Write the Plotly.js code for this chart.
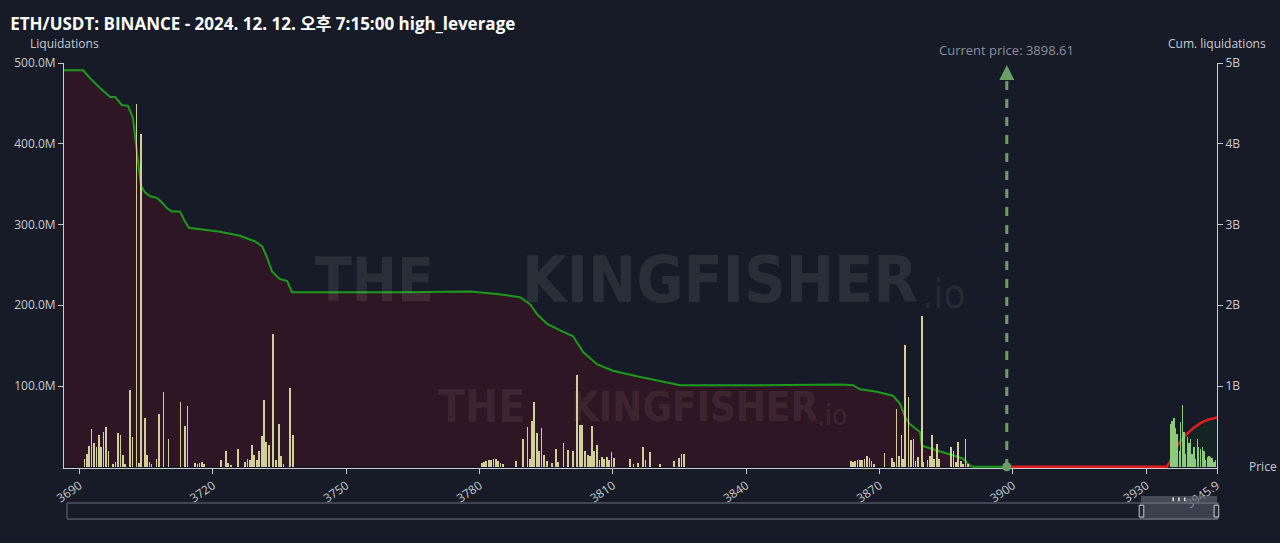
<!DOCTYPE html>
<html>
<head>
<meta charset="utf-8">
<script src="https://cdn.plot.ly/plotly-3.0.1.min.js"></script>
<style>
html,body{margin:0;padding:0;background:#161b27;}
#chart{width:1280px;height:543px;}
</style>
</head>
<body>
<div id="chart"></div>
<script>
// ---- data (prices in USDT, liquidations in M USD, cumulative in B USD) ----
const longPrices = [3691.1,3691.6,3692.2,3692.7,3693.3,3693.8,3694.3,3694.8,3695.4,3696.0,3696.5,3697.6,3698.1,3698.7,3699.2,3699.7,3700.2,3701.4,3701.9,3702.8,3703.3,3703.8,3704.7,3705.2,3705.7,3706.2,3707.3,3707.8,3708.9,3710.0,3712.7,3713.7,3714.3,3716.0,3716.5,3717.0,3717.5,3718.0,3721.8,3722.9,3723.4,3724.0,3725.6,3727.2,3727.8,3728.3,3728.8,3729.3,3729.9,3730.4,3731.0,3731.5,3732.0,3732.6,3733.5,3734.2,3734.8,3735.3,3735.9,3737.4,3738.0,
3780.5,3781.0,3781.5,3782.1,3782.6,3783.1,3783.7,3784.2,3784.7,3785.2,3788.2,3789.7,3790.8,3791.3,3791.8,3792.3,3792.9,3793.4,3793.9,3794.5,3795.1,3796.3,3797.2,3797.7,3798.9,3799.9,3801.0,3801.9,3802.6,3803.1,3803.7,3804.4,3804.9,3805.3,3805.8,3806.4,3807.0,3807.5,3808.0,3808.6,3809.1,3809.7,3810.2,3813.9,3814.6,3815.6,3816.7,3817.3,3818.4,3820.6,3823.8,3824.8,3825.4,3826.0,
3863.5,3864.0,3864.5,3865.0,3865.6,3866.1,3866.6,3867.1,3867.7,3868.2,3868.7,3871.1,3872.8,3873.3,3873.8,3874.3,3874.9,3875.2,3875.7,3876.5,3877.0,3877.6,3878.1,3878.6,3879.5,3879.9,3880.8,3881.3,3881.8,3882.3,3882.9,3883.4,3886.0,3886.6,3887.2,3887.7,3888.3,3888.8,3889.3,3889.9];
const longLiqM = [10,16,26,47,30,24,39,25,43,49,20,3,6,42,39,15,4,95,37,449,5,412,60,15,6,3,10,65,93,35,80,51,75,5,4,5,6,4,8,20,5,2,22,6,10,8,27,15,8,19,38,83,31,27,165,8,53,13,4,98,39,
5,6,7,9,8,10,10,7,5,4,7,34,49,10,57,80,42,19,48,15,7,5,22,6,30,21,20,114,52,52,19,14,13,51,19,27,8,12,10,12,8,18,11,10,4,5,24,9,18,4,7,11,16,16,
7,6,7,8,8,8,10,13,11,7,4,17,11,6,72,13,39,10,151,86,33,35,7,12,187,6,8,13,39,10,28,10,24,19,6,31,7,4,34,4];

const shortPrices = [3935.4,3935.8,3936.2,3936.6,3936.9,3937.4,3937.7,3938.1,3938.5,3938.8,3939.2,3939.6,3939.9,3940.3,3940.7,3941.1,3941.5,3941.8,3942.2,3942.6,3943.0,3943.3,3943.7,3944.1,3944.5,3944.8,3945.2,3945.6];
const shortLiqM = [53,57,60,48,41,20,56,76,43,16,37,29,34,16,24,10,35,24,22,24,19,8,12,13,12,11,6,8];

const cumLongPrices = [3686.5,3690.8,3692.4,3694.6,3696.9,3698.0,3699.5,3700.9,3702.0,3702.9,3703.8,3704.7,3705.9,3707.4,3708.6,3709.7,3710.8,3712.6,3713.5,3714.6,3717.1,3721.6,3726.1,3729.5,3731.1,3732.2,3733.3,3734.9,3736.7,3737.8,3762.1,3777.9,3783.9,3789.1,3791.4,3792.9,3795.2,3798.8,3801.0,3803.3,3806.4,3810.0,3815.4,3819.9,3825.1,3843.1,3861.1,3864.0,3865.6,3869.4,3873.0,3874.6,3875.7,3876.8,3879.1,3879.5,3882.1,3883.6,3886.6,3888.8,3890.4,3891.0,3898.61];
const cumLongB = [4.91,4.91,4.81,4.69,4.58,4.58,4.48,4.47,4.32,3.91,3.48,3.40,3.35,3.33,3.27,3.20,3.16,3.16,3.06,2.96,2.94,2.91,2.86,2.79,2.73,2.59,2.42,2.33,2.30,2.16,2.16,2.17,2.14,2.10,2.01,1.89,1.77,1.67,1.62,1.42,1.27,1.19,1.12,1.07,1.01,1.01,1.02,1.01,0.96,0.93,0.88,0.78,0.62,0.53,0.43,0.26,0.22,0.19,0.14,0.10,0.01,0,0];

const cumShortPrices = [3898.61,3934.6,3935.4,3936.5,3937.6,3939.2,3940.6,3942.2,3943.7,3945.4,3945.9];
const cumShortB = [0,0,0.07,0.22,0.31,0.41,0.48,0.54,0.58,0.60,0.61];

const currentPrice = 3898.61;
const xTickVals = [3690,3720,3750,3780,3810,3840,3870,3900,3930,3945.9];
const xTickText = ["3690","3720","3750","3780","3810","3840","3870","3900","3930","3945.9"];
const liqTickVals = [100,200,300,400,500];
const liqTickText = ["100.0M","200.0M","300.0M","400.0M","500.0M"];
const cumTickVals = [1,2,3,4,5];
const cumTickText = ["1B","2B","3B","4B","5B"];
const titleText = "ETH/USDT: BINANCE - 2024. 12. 12. 오후 7:15:00 high_leverage";

// ---- chart ----
const FONT = "'Open Sans','Noto Sans','Noto Sans CJK KR',sans-serif";
const AXC = "#c8cbd2";
const priceGreen = "#6b9f66";

const traces = [
  {x: cumLongPrices, y: cumLongB, type:'scatter', mode:'lines', yaxis:'y',
   line:{color:'#1c9a1c', width:2}, fill:'tozeroy', fillcolor:'rgba(70,18,34,0.55)', hoverinfo:'skip'},
  {x: cumShortPrices, y: cumShortB, type:'scatter', mode:'lines', yaxis:'y',
   line:{color:'#e21d1d', width:2.5}, fill:'tozeroy', fillcolor:'rgba(20,70,25,0.18)', hoverinfo:'skip'},
  {x: longPrices, y: longLiqM, type:'bar', yaxis:'y2', width:0.38,
   marker:{color:'#d3cf98', line:{width:0}}},
  {x: shortPrices, y: shortLiqM, type:'bar', yaxis:'y2', width:0.3,
   marker:{color:'#8ccb7c', line:{width:0}}},
  {x:[currentPrice], y:[0], type:'scatter', mode:'markers', yaxis:'y', cliponaxis:false,
   marker:{color:priceGreen, size:9}, hoverinfo:'skip'}
];

const wm = 'rgba(255,255,255,0.085)';
const WMF = "'Liberation Sans Narrow','DejaVu Sans Condensed','Roboto',sans-serif";
const hx = [0.962, 0.967, 0.972];

const layout = {
  width:1280, height:543,
  paper_bgcolor:'#161b27', plot_bgcolor:'#161b27',
  margin:{l:64, r:63, t:63, b:75},
  showlegend:false, bargap:0,
  font:{family:FONT, color:AXC, size:12},
  title:{text:'<b>'+titleText+'</b>', x:0.008, xanchor:'left', y:0.955, yanchor:'middle',
         font:{family:FONT, size:17, color:'#ffffff'}},
  xaxis:{range:[3686.5,3945.9], tickvals:xTickVals, ticktext:xTickText, tickangle:-35,
         showgrid:false, zeroline:false, showline:true, linecolor:AXC, linewidth:1, layer:'below traces',
         ticks:'outside', ticklen:5, tickcolor:AXC, tickfont:{size:12, color:AXC}},
  yaxis:{range:[-0.015,5], side:'right', tickvals:cumTickVals, ticktext:cumTickText,
         showgrid:false, zeroline:false, showline:true, linecolor:AXC, linewidth:1,
         ticks:'outside', ticklen:5, tickcolor:AXC, tickfont:{size:12, color:AXC}},
  yaxis2:{range:[-1.5,500], overlaying:'y', side:'left', tickvals:liqTickVals, ticktext:liqTickText,
         showgrid:false, zeroline:false, showline:true, linecolor:AXC, linewidth:1,
         ticks:'outside', ticklen:5, tickcolor:AXC, tickfont:{size:12, color:AXC}},
  shapes:[
    {type:'line', xref:'x', yref:'paper', x0:currentPrice, x1:currentPrice, y0:0, y1:0.96,
     line:{color:priceGreen, width:3, dash:'dash'}},
    // range slider look-alike
    {type:'rect', xref:'paper', yref:'paper', x0:0.0026, x1:1.0009, y0:-0.126, y1:-0.0864,
     line:{color:'#6c707a', width:1}, fillcolor:'rgba(0,0,0,0)'},
    {type:'rect', xref:'paper', yref:'paper', x0:0.934, x1:1.0, y0:-0.126, y1:-0.0864,
     line:{color:'#6c707a', width:1}, fillcolor:'rgba(90,95,108,0.55)'},
    {type:'rect', xref:'paper', yref:'paper', x0:0.934, x1:1.0, y0:-0.0864, y1:-0.069,
     line:{width:0}, fillcolor:'rgba(90,95,108,0.7)'},
    {type:'line', xref:'paper', yref:'paper', x0:hx[0], x1:hx[0], y0:-0.082, y1:-0.073, line:{color:'#e8e8e8', width:1.5}},
    {type:'line', xref:'paper', yref:'paper', x0:hx[1], x1:hx[1], y0:-0.082, y1:-0.073, line:{color:'#e8e8e8', width:1.5}},
    {type:'line', xref:'paper', yref:'paper', x0:hx[2], x1:hx[2], y0:-0.082, y1:-0.073, line:{color:'#e8e8e8', width:1.5}},
    {type:'rect', xref:'paper', yref:'paper', x0:0.9325, x1:0.9365, y0:-0.121, y1:-0.092,
     line:{color:'#c8cbd2', width:1}, fillcolor:'#262a35'},
    {type:'rect', xref:'paper', yref:'paper', x0:0.9975, x1:1.0015, y0:-0.121, y1:-0.092,
     line:{color:'#c8cbd2', width:1}, fillcolor:'#262a35'}
  ],
  annotations:[
    {text:'Liquidations', xref:'paper', yref:'paper', x:0, y:1.047, xanchor:'center', yanchor:'middle',
     showarrow:false, font:{size:12, color:AXC}},
    {text:'Cum. liquidations', xref:'paper', yref:'paper', x:1, y:1.047, xanchor:'center', yanchor:'middle',
     showarrow:false, font:{size:12, color:AXC}},
    {text:'Price', xref:'paper', yref:'paper', x:1.0538, y:0.003, xanchor:'right', yanchor:'middle',
     showarrow:false, font:{size:12, color:AXC}},
    {text:'Current price: '+currentPrice, xref:'x', yref:'paper', x:currentPrice, y:1.032, xanchor:'center', yanchor:'middle',
     showarrow:false, font:{size:13, color:'#8b909a'}},
    {text:' ', xref:'x', yref:'paper', x:currentPrice, y:0.995, ax:0, ay:22, showarrow:true,
     arrowhead:2, arrowsize:1, arrowwidth:3, arrowcolor:priceGreen},
    // watermarks
    {text:'<b>THE</b>', xref:'paper', yref:'paper', x:0.2697, y:0.464, xanchor:'center', yanchor:'middle', showarrow:false,
     font:{family:WMF, size:60, color:wm}},
    {text:'<b>KINGFISHER</b>', xref:'paper', yref:'paper', x:0.569, y:0.464, xanchor:'center', yanchor:'middle', showarrow:false,
     font:{family:WMF, size:64, color:wm}},
    {text:'.io', xref:'paper', yref:'paper', x:0.7425, y:0.43, xanchor:'left', yanchor:'middle', showarrow:false,
     font:{family:WMF, size:40, color:wm}},
    {text:'<b>THE</b>', xref:'paper', yref:'paper', x:0.3625, y:0.151, xanchor:'center', yanchor:'middle', showarrow:false,
     font:{family:WMF, size:44, color:wm}},
    {text:'<b>KINGFISHER</b>', xref:'paper', yref:'paper', x:0.547, y:0.151, xanchor:'center', yanchor:'middle', showarrow:false,
     font:{family:WMF, size:40, color:wm}},
    {text:'.io', xref:'paper', yref:'paper', x:0.6515, y:0.13, xanchor:'left', yanchor:'middle', showarrow:false,
     font:{family:WMF, size:28, color:wm}}
  ]
};

Plotly.newPlot('chart', traces, layout, {displayModeBar:false, staticPlot:true});
</script>
</body>
</html>
